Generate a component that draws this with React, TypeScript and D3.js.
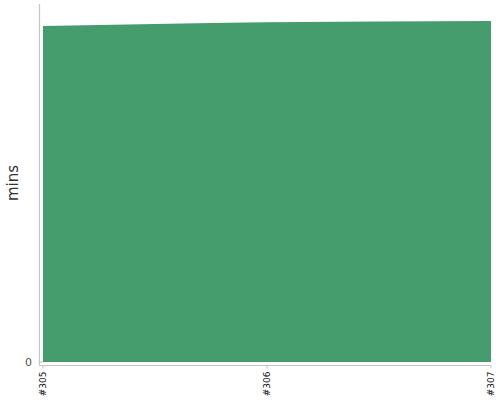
import React from "react";
import * as d3 from "d3";

const builds = ["#305", "#306", "#307"];
const minutes = [9.385, 9.49, 9.525];
const yTicks = [0];

const W = 500;
const H = 400;
const plotLeft = 43;
const plotRight = 491;
const plotTop = 4;
const plotBottom = 362;
const FONT = "DejaVu Sans, Verdana, sans-serif";

export default function App() {
  const x = d3.scalePoint<string>().domain(builds).range([plotLeft, plotRight]);
  const y = d3.scaleLinear().domain([0, 10]).range([plotBottom, plotTop]);
  const data = builds.map((b, i) => ({ b, v: minutes[i] }));
  const area = d3
    .area<{ b: string; v: number }>()
    .x((d) => x(d.b) as number)
    .y0(y(0))
    .y1((d) => y(d.v))
    .curve(d3.curveMonotoneX);

  return (
    <svg
      width={W}
      height={H}
      style={{ position: "absolute", left: 0, top: 0 }}
      fontFamily={FONT}
    >
      <path d={area(data) ?? ""} fill="#459c6d" />
      <line x1={39.5} x2={39.5} y1={4} y2={365.5} stroke="#c4c4c4" strokeWidth={1.2} />
      {yTicks.map((t) => (
        <g key={t}>
          <line x1={39.5} x2={43} y1={y(t)} y2={y(t)} stroke="#c4c4c4" />
          <text x={32} y={y(t)} dy="0.35em" textAnchor="end" fontSize={11} fill="#555" fontFamily={FONT}>
            {t}
          </text>
        </g>
      ))}
      <line x1={39.5} x2={491} y1={365.5} y2={365.5} stroke="#c4c4c4" strokeWidth={1.2} />
      {builds.map((b) => (
        <g key={b} transform={`translate(${x(b)},365.5)`}>
          <line y1={0} y2={3} stroke="#c4c4c4" />
          <text
            transform="rotate(-90)"
            x={-6}
            dy="0.35em"
            textAnchor="end"
            fontSize={9}
            fill="#111"
            fontFamily={FONT}
          >
            {b}
          </text>
        </g>
      ))}
      <text
        transform={`translate(18,183) rotate(-90)`}
        textAnchor="middle"
        fontSize={15}
        fill="#333"
        fontFamily={FONT}
      >
        mins
      </text>
    </svg>
  );
}
